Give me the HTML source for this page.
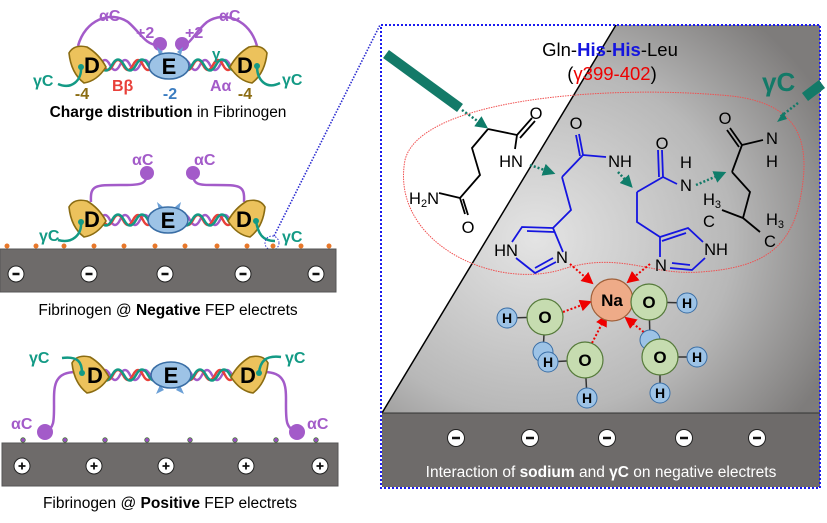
<!DOCTYPE html>
<html><head><meta charset="utf-8"><style>
html,body{margin:0;padding:0;background:#fff}
svg{display:block}
text{font-family:"Liberation Sans",Arial,sans-serif}
</style></head><body>
<svg width="827" height="523" viewBox="0 0 827 523" xmlns="http://www.w3.org/2000/svg">
<defs>
<radialGradient id="g1" cx="0.35" cy="0.55" r="0.75">
<stop offset="0" stop-color="#e4e4e4"/><stop offset="0.6" stop-color="#b8b8b8"/><stop offset="1" stop-color="#7e7c7b"/>
</radialGradient>
<marker id="ar" markerWidth="6" markerHeight="6" refX="5" refY="3" orient="auto"><path d="M0,0 L6,3 L0,6z" fill="#e00"/></marker>
<marker id="ag" markerWidth="5" markerHeight="5" refX="4" refY="2.5" orient="auto"><path d="M0,0 L5,2.5 L0,5z" fill="#0f7d6a"/></marker>
<g id="Dl"><path d="M-17,-12 Q-12,-21 1,-18 Q13,-11 20,2 Q11,16 -2,18 Q-15,8 -17,-12Z" fill="#ecc25c" stroke="#8b6c12" stroke-width="1.6"/></g>
<g id="Dr"><path d="M17,-12 Q12,-21 -1,-18 Q-13,-11 -20,2 Q-11,16 2,18 Q15,8 17,-12Z" fill="#ecc25c" stroke="#8b6c12" stroke-width="1.6"/></g>
<g id="hx" fill="none" stroke-width="2.5">
<path d="M0,0 q5,-10 10,0 t10,0 t10,0 t10,0 t10,0 t10,0" stroke="#a35bc9"/>
<path d="M3,0 q5,10 10,0 t10,0 t10,0 t10,0 t10,0 t10,0" stroke="#e8403a"/>
<path d="M0,0 q6,11 12,0 t12,0 t12,0 t12,0 t12,0" stroke="#139a85"/>
</g>
</defs>

<!-- ===== TOP MOLECULE ===== -->
<g>
<path d="M78,46 C85,20 110,10 128,22 C140,32 145,45 158,45" fill="none" stroke="#a35bc9" stroke-width="2.5"/>
<path d="M257,46 C250,20 225,10 207,22 C195,32 190,45 183,45" fill="none" stroke="#a35bc9" stroke-width="2.5"/>
<circle cx="160" cy="44" r="7" fill="#a35bc9"/><circle cx="182" cy="44" r="7" fill="#a35bc9"/>
<use href="#hx" x="100" y="65"/><use href="#hx" x="180" y="65"/>
<use href="#Dl" x="86" y="65"/><use href="#Dr" x="250" y="65"/>
<path d="M159,55 l-2,-8 l6,5z M181,55 l2,-8 l-6,5z" fill="#6a9fd6"/>
<ellipse cx="169" cy="66" rx="20" ry="13" fill="#9dc3e6" stroke="#3a6ea5" stroke-width="1.6"/>
<text x="169" y="74" font-size="22" font-weight="bold" text-anchor="middle">E</text>
<text x="92" y="73" font-size="22" font-weight="bold" text-anchor="middle">D</text>
<text x="245" y="73" font-size="22" font-weight="bold" text-anchor="middle">D</text>
<path d="M81,67 C82,80 72,90 58,84" fill="none" stroke="#139a85" stroke-width="2.5"/><circle cx="81" cy="67" r="3" fill="#139a85"/>
<path d="M257,66 C257,80 266,90 280,83" fill="none" stroke="#139a85" stroke-width="2.5"/><circle cx="257" cy="66" r="3" fill="#139a85"/>
<text x="99" y="21" font-size="16" font-weight="bold" fill="#a35bc9">αC</text>
<text x="219" y="21" font-size="16" font-weight="bold" fill="#a35bc9">αC</text>
<text x="136" y="38" font-size="16" font-weight="bold" fill="#a35bc9">+2</text>
<text x="185" y="38" font-size="16" font-weight="bold" fill="#a35bc9">+2</text>
<text x="212" y="59" font-size="15" font-weight="bold" fill="#139a85">γ</text>
<text x="33" y="86" font-size="16" font-weight="bold" fill="#139a85">γC</text>
<text x="282" y="85" font-size="16" font-weight="bold" fill="#139a85">γC</text>
<text x="112" y="91" font-size="16" font-weight="bold" fill="#e8403a">Bβ</text>
<text x="210" y="91" font-size="16" font-weight="bold" fill="#a35bc9">Aα</text>
<text x="170" y="99" font-size="16" font-weight="bold" fill="#3a7cc0" text-anchor="middle">-2</text>
<text x="82" y="99" font-size="16" font-weight="bold" fill="#8b6c12" text-anchor="middle">-4</text>
<text x="245" y="99" font-size="16" font-weight="bold" fill="#8b6c12" text-anchor="middle">-4</text>
<text x="168" y="117" font-size="15.5" text-anchor="middle"><tspan font-weight="bold">Charge distribution</tspan> in Fibrinogen</text>
</g>

<!-- ===== MIDDLE MOLECULE ===== -->
<g>
<path d="M91,202 C90,185 95,185 120,185 C140,185 147,185 147,173" fill="none" stroke="#a35bc9" stroke-width="2.5"/>
<path d="M244,202 C245,185 240,185 215,185 C198,185 193,185 193,173" fill="none" stroke="#a35bc9" stroke-width="2.5"/>
<circle cx="147" cy="173" r="7" fill="#a35bc9"/><circle cx="193" cy="173" r="7" fill="#a35bc9"/>
<text x="132" y="165" font-size="16" font-weight="bold" fill="#a35bc9">αC</text>
<text x="194" y="165" font-size="16" font-weight="bold" fill="#a35bc9">αC</text>
<use href="#hx" x="100" y="220"/><use href="#hx" x="180" y="220"/>
<use href="#Dl" x="86" y="219"/><use href="#Dr" x="248" y="219"/>
<path d="M159,210 l-2,-8 l6,5z M179,210 l2,-8 l-6,5z" fill="#6a9fd6"/>
<ellipse cx="168" cy="220" rx="20" ry="13" fill="#9dc3e6" stroke="#3a6ea5" stroke-width="1.6"/>
<text x="168" y="228" font-size="22" font-weight="bold" text-anchor="middle">E</text>
<text x="92" y="227" font-size="22" font-weight="bold" text-anchor="middle">D</text>
<text x="244" y="227" font-size="22" font-weight="bold" text-anchor="middle">D</text>
<path d="M81,222 C82,235 72,244 58,240" fill="none" stroke="#139a85" stroke-width="2.5"/><circle cx="81" cy="222" r="3" fill="#139a85"/>
<path d="M256,221 C258,233 262,241 275,241" fill="none" stroke="#139a85" stroke-width="2.5"/><circle cx="256" cy="221" r="3" fill="#139a85"/>
<text x="39" y="241" font-size="16" font-weight="bold" fill="#139a85">γC</text>
<text x="282" y="242" font-size="16" font-weight="bold" fill="#139a85">γC</text>
<g fill="#e8782a">
<circle cx="7" cy="246" r="2.5"/><circle cx="36" cy="246" r="2.5"/><circle cx="64" cy="246" r="2.5"/><circle cx="94" cy="246" r="2.5"/><circle cx="124" cy="246" r="2.5"/><circle cx="155" cy="246" r="2.5"/><circle cx="185" cy="246" r="2.5"/><circle cx="217" cy="246" r="2.5"/><circle cx="247" cy="246" r="2.5"/><circle cx="273" cy="246" r="2.5"/><circle cx="301" cy="246" r="2.5"/><circle cx="329" cy="246" r="2.5"/>
</g>
<circle cx="272" cy="243" r="7" fill="none" stroke="#3333cc" stroke-width="1" stroke-dasharray="1.5,1.5"/>
<rect x="0" y="249" width="336" height="43" fill="#6e6b6a" stroke="#555"/>
<g fill="#fff" stroke="#222" stroke-width="1"><circle cx="16" cy="274" r="8"/><circle cx="89" cy="274" r="8"/><circle cx="165" cy="274" r="8"/><circle cx="243" cy="274" r="8"/><circle cx="316" cy="274" r="8"/></g>
<g stroke="#111" stroke-width="2.4"><path d="M12.5,274h7 M85.5,274h7 M161.5,274h7 M239.5,274h7 M312.5,274h7"/></g>
<text x="168" y="315" font-size="15.5" text-anchor="middle">Fibrinogen @ <tspan font-weight="bold">Negative</tspan> FEP electrets</text>
</g>

<!-- ===== BOTTOM MOLECULE ===== -->
<g>
<path d="M76,372 C55,372 54,385 54,400 C54,420 55,428 45,432" fill="none" stroke="#a35bc9" stroke-width="2.5"/>
<path d="M264,372 C285,372 286,385 286,400 C286,420 285,428 297,432" fill="none" stroke="#a35bc9" stroke-width="2.5"/>
<circle cx="45" cy="432" r="8" fill="#a35bc9"/><circle cx="297" cy="432" r="8" fill="#a35bc9"/>
<text x="11" y="429" font-size="16" font-weight="bold" fill="#a35bc9">αC</text>
<text x="307" y="429" font-size="16" font-weight="bold" fill="#a35bc9">αC</text>
<use href="#hx" x="100" y="375"/><use href="#hx" x="182" y="375"/>
<use href="#Dl" x="89" y="375"/><use href="#Dr" x="251" y="375"/>
<path d="M160,385 l-4,9 l8,-4z M180,385 l4,9 l-8,-4z" fill="#6a9fd6"/>
<ellipse cx="171" cy="375" rx="20" ry="13" fill="#9dc3e6" stroke="#3a6ea5" stroke-width="1.6"/>
<text x="171" y="383" font-size="22" font-weight="bold" text-anchor="middle">E</text>
<text x="95" y="383" font-size="22" font-weight="bold" text-anchor="middle">D</text>
<text x="248" y="383" font-size="22" font-weight="bold" text-anchor="middle">D</text>
<path d="M82,373 C82,362 78,356 62,358" fill="none" stroke="#139a85" stroke-width="2.5"/><circle cx="82" cy="373" r="3" fill="#139a85"/>
<path d="M259,373 C260,362 265,355 281,357" fill="none" stroke="#139a85" stroke-width="2.5"/><circle cx="259" cy="373" r="3" fill="#139a85"/>
<text x="29" y="363" font-size="16" font-weight="bold" fill="#139a85">γC</text>
<text x="285" y="363" font-size="16" font-weight="bold" fill="#139a85">γC</text>
<g fill="#9a4fc2" stroke="#4a7a3a" stroke-width="0.8">
<circle cx="23" cy="440" r="2.3"/><circle cx="65" cy="440" r="2.3"/><circle cx="105" cy="440" r="2.3"/><circle cx="147" cy="440" r="2.3"/><circle cx="190" cy="440" r="2.3"/><circle cx="235" cy="440" r="2.3"/><circle cx="276" cy="440" r="2.3"/><circle cx="316" cy="440" r="2.3"/>
</g>
<rect x="2" y="443" width="336" height="43" fill="#6e6b6a" stroke="#555"/>
<g fill="#fff" stroke="#222" stroke-width="1"><circle cx="22" cy="466" r="8"/><circle cx="94" cy="466" r="8"/><circle cx="166" cy="466" r="8"/><circle cx="246" cy="466" r="8"/><circle cx="320" cy="466" r="8"/></g>
<g stroke="#111" stroke-width="1.8"><path d="M18.5,466h7 M22,462.5v7 M90.5,466h7 M94,462.5v7 M162.5,466h7 M166,462.5v7 M242.5,466h7 M246,462.5v7 M316.5,466h7 M320,462.5v7"/></g>
<text x="170" y="508" font-size="15.5" text-anchor="middle">Fibrinogen @ <tspan font-weight="bold">Positive</tspan> FEP electrets</text>
</g>

<!-- dotted link -->
<line x1="274" y1="236" x2="380" y2="25" stroke="#2a2ad0" stroke-width="1.6" stroke-dasharray="1.5,1.5"/>

<!-- ===== RIGHT PANEL ===== -->
<path d="M616,25 L820,25 L820,413 L382,413 Z" fill="url(#g1)"/>
<line x1="616" y1="25" x2="382" y2="413" stroke="#000" stroke-width="1.5"/>
<rect x="382" y="413" width="438" height="74" fill="#6e6b6a"/>
<line x1="382" y1="413" x2="820" y2="413" stroke="#333" stroke-width="1"/>
<g fill="#fff" stroke="#222" stroke-width="1"><circle cx="456" cy="438" r="8.5"/><circle cx="530" cy="438" r="8.5"/><circle cx="607" cy="438" r="8.5"/><circle cx="684" cy="438" r="8.5"/><circle cx="757" cy="438" r="8.5"/></g>
<g stroke="#111" stroke-width="2.4"><path d="M452,438h8 M526,438h8 M603,438h8 M680,438h8 M753,438h8"/></g>
<text x="601" y="477" font-size="15.5" fill="#fff" text-anchor="middle">Interaction of <tspan font-weight="bold">sodium</tspan> and <tspan font-weight="bold">γC</tspan> on negative electrets</text>
<rect x="381" y="25" width="439" height="463" fill="none" stroke="#1a1aee" stroke-width="2" stroke-dasharray="2,2"/>

<text x="610" y="56" font-size="18.5" text-anchor="middle">Gln-<tspan fill="#1515e0" font-weight="bold">His</tspan>-<tspan fill="#1515e0" font-weight="bold">His</tspan>-Leu</text>
<text x="612" y="80" font-size="18.5" text-anchor="middle">(<tspan fill="#e00">γ399-402</tspan>)</text>
<text x="762" y="91" font-size="26" font-weight="bold" fill="#137a68">γC</text>

<!-- red ellipse -->
<path d="M405,160 C420,100 600,85 720,95 C800,100 812,140 800,200 C790,250 760,268 700,272 C650,276 620,250 560,270 C490,290 390,240 405,160Z" fill="none" stroke="#f05050" stroke-width="1" stroke-dasharray="1.5,1"/>

<!-- green bars -->
<line x1="386" y1="54" x2="460" y2="108" stroke="#137a68" stroke-width="10"/>
<line x1="462" y1="110" x2="486" y2="127" stroke="#137a68" stroke-width="2.5" stroke-dasharray="2,2" marker-end="url(#ag)"/>
<line x1="805" y1="97" x2="822" y2="84" stroke="#137a68" stroke-width="10"/>
<line x1="798" y1="103" x2="780" y2="117" stroke="#137a68" stroke-width="2.5" stroke-dasharray="2,2"/>
<path d="M783,112 l-6,10 l10,-3z" fill="#137a68"/>

<g fill="none" stroke="#000" stroke-width="1.8">
<!-- Gln -->
<path d="M488,129 L517,135 M517,135 L532,118 M520,138 L535,121 M517,135 L515,149 M488,129 L472,148 L480,175 L460,198 L439,193 M460,198 L465,214 M463,199 L468,215"/>
<!-- Leu -->
<path d="M732,172 L742,145 M742,145 L730,128 M739,147 L727,130 M742,145 L763,140 M732,172 L750,192 L743,218 L722,210 M743,218 L760,232"/>
</g>
<g fill="none" stroke="#1515e0" stroke-width="1.8">
<path d="M562,177 L583,155 M583,155 L579,134 M580,156 L576,135 M583,155 L606,157 M562,177 L571,210 L553,228"/>
<path d="M553,228 L522,227 L512,242 M554,232 L527,231 M516,258 L535,273 L556,262 M535,268 L553,258 M563,252 L553,228"/>
<path d="M637,192 L663,177 M663,177 L662,150 M659,177 L658,150 M663,177 L677,184 M637,192 L637,222 L660,237"/>
<path d="M660,237 L688,228 L703,242 M662,241 L686,233 M705,258 L692,270 L670,268 M690,265 L672,263 M660,257 L660,237"/>
</g>
<g font-size="16.5" text-anchor="middle">
<text x="536" y="119">O</text><text x="511" y="167">HN</text><text x="424" y="204">H<tspan font-size="11" dy="3">2</tspan><tspan dy="-3">N</tspan></text><text x="468" y="233">O</text>
<text x="576" y="129">O</text><text x="620" y="167">NH</text><text x="662" y="149">O</text><text x="686" y="168">H</text><text x="686" y="191">N</text>
<text x="506" y="256">HN</text><text x="562" y="263">N</text><text x="661" y="271">N</text><text x="716" y="255">NH</text>
<text x="725" y="124">O</text><text x="772" y="144">N</text><text x="772" y="167">H</text>
<text x="712" y="205">H<tspan font-size="11" dy="3">3</tspan></text><text x="709" y="227">C</text>
<text x="775" y="225">H<tspan font-size="11" dy="3">3</tspan></text><text x="770" y="247">C</text>
</g>
<!-- green dotted arrows -->
<g stroke="#137a68" stroke-width="2.5" stroke-dasharray="2,2" fill="none">
<line x1="530" y1="165" x2="553" y2="173" marker-end="url(#ag)"/>
<line x1="618" y1="172" x2="631" y2="186" marker-end="url(#ag)"/>
<line x1="696" y1="185" x2="724" y2="173" marker-end="url(#ag)"/>
</g>

<!-- water/Na -->
<g stroke="#e00" stroke-width="2" stroke-dasharray="2,2" fill="none">
<line x1="570" y1="264" x2="592" y2="283" marker-end="url(#ar)"/>
<line x1="650" y1="264" x2="628" y2="282" marker-end="url(#ar)"/>
<line x1="563" y1="312" x2="590" y2="302" marker-end="url(#ar)"/>
<line x1="592" y1="343" x2="606" y2="316" marker-end="url(#ar)"/>
<line x1="650" y1="337" x2="626" y2="318" marker-end="url(#ar)"/>
</g>
<g stroke="#333" stroke-width="1.5">
<line x1="507" y1="318" x2="545" y2="317"/><line x1="545" y1="317" x2="543" y2="352"/>
<line x1="548" y1="362" x2="585" y2="360"/><line x1="585" y1="360" x2="587" y2="398"/>
<line x1="649" y1="302" x2="687" y2="303"/><line x1="649" y1="302" x2="650" y2="340"/>
<line x1="660" y1="357" x2="697" y2="357"/><line x1="660" y1="357" x2="660" y2="393"/>
</g>
<g stroke="#3a6ea5" stroke-width="1" fill="#9dc3e6">
<circle cx="507" cy="318" r="10"/><circle cx="543" cy="352" r="10"/><circle cx="548" cy="362" r="10"/><circle cx="587" cy="398" r="10"/>
<circle cx="687" cy="303" r="10"/><circle cx="650" cy="340" r="10"/><circle cx="697" cy="357" r="10"/><circle cx="660" cy="393" r="10"/>
</g>
<circle cx="612" cy="300" r="21" fill="#eeab88" stroke="#a0603a" stroke-width="1.2"/>
<g stroke="#557a3a" stroke-width="1.2" fill="#c6dcb0">
<circle cx="545" cy="317" r="18"/><circle cx="585" cy="360" r="18"/><circle cx="649" cy="302" r="18"/><circle cx="660" cy="357" r="18"/>
</g>
<g font-size="17" font-weight="bold" text-anchor="middle">
<text x="612" y="306">Na</text>
<text x="545" y="323">O</text><text x="585" y="366">O</text><text x="649" y="308">O</text><text x="660" y="363">O</text>
<text x="507" y="323" font-size="14">H</text><text x="548" y="367" font-size="14">H</text><text x="587" y="403" font-size="14">H</text>
<text x="687" y="308" font-size="14">H</text><text x="697" y="362" font-size="14">H</text><text x="660" y="398" font-size="14">H</text>
</g>
</svg>
</body></html>
